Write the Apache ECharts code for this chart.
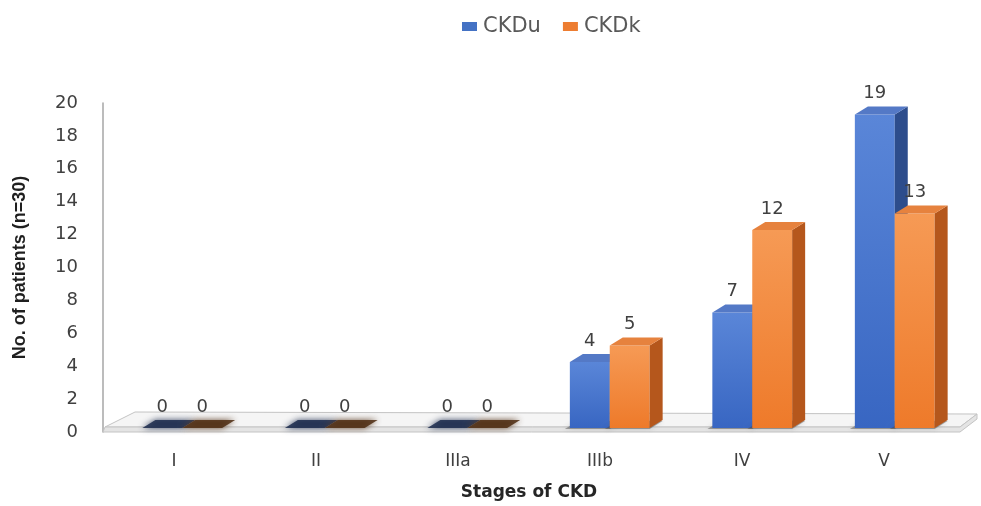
<!DOCTYPE html>
<html>
<head>
<meta charset="utf-8">
<script src="https://cdn.jsdelivr.net/npm/echarts@6/dist/echarts.min.js"></script>
<style>
  html, body { margin: 0; padding: 0; background: #ffffff; }
  #chart { width: 981px; height: 506px; }
</style>
</head>
<body>
<div id="chart"></div>
<script>
// CKD stage distribution by group
const categories = ['I', 'II', 'IIIa', 'IIIb', 'IV', 'V'];
const ckduValues = [0, 0, 0, 4, 7, 19];
const ckdkValues = [0, 0, 0, 5, 12, 13];
const yMin = 0;
const yMax = 20;
const yStep = 2;

const FONT = '"DejaVu Sans", sans-serif';
const DEPTH_X = 13;
const DEPTH_Y = 8;

const palettes = {
  blue: {
    legend: '#4472c4',
    frontTop: '#5a86d8', frontBottom: '#3866c2',
    side: '#2d4d8c', top: '#5479c6',
    flat: '#1b2a4c'
  },
  orange: {
    legend: '#ed7d31',
    frontTop: '#f69a55', frontBottom: '#ee7a2a',
    side: '#b5571c', top: '#e6823e',
    flat: '#4e2b10'
  }
};

// Draws one 3D-looking bar: front face, right side and top face
function barRenderer(slot, pal) {
  return function (params, api) {
    const cat = api.value(0);
    const val = api.value(1);
    const band = api.size([1, 0])[0];
    const bw = band * 0.28;
    const base = api.coord([cat, 0]);
    const top = api.coord([cat, val]);
    const x0 = base[0] + slot * bw;
    const x1 = x0 + bw;
    const yb = base[1];
    const yt = top[1];
    const children = [];

    if (val === 0) {
      children.push({
        type: 'polygon',
        shape: { points: [[x0, yb], [x0 + DEPTH_X, yb - DEPTH_Y], [x1 + DEPTH_X, yb - DEPTH_Y], [x1, yb]] },
        style: { fill: pal.flat, shadowBlur: 6, shadowColor: pal.flat, opacity: 0.85 }
      });
    } else {
      // soft contact shadow on the floor
      children.push({
        type: 'polygon',
        shape: { points: [[x0 - 5, yb + 1], [x0 - 5 + DEPTH_X, yb - DEPTH_Y + 1], [x1 + DEPTH_X, yb - DEPTH_Y + 1], [x1, yb + 1]] },
        style: { fill: 'rgba(70,70,70,0.45)', shadowBlur: 5, shadowColor: 'rgba(70,70,70,0.5)' }
      });
      children.push({
        type: 'rect',
        shape: { x: x0, y: yt, width: bw, height: yb - yt },
        style: {
          fill: new echarts.graphic.LinearGradient(0, 0, 0, 1, [
            { offset: 0, color: pal.frontTop },
            { offset: 1, color: pal.frontBottom }
          ])
        }
      });
      children.push({
        type: 'polygon',
        shape: { points: [[x1, yt], [x1 + DEPTH_X, yt - DEPTH_Y], [x1 + DEPTH_X, yb - DEPTH_Y], [x1, yb]] },
        style: { fill: pal.side }
      });
      children.push({
        type: 'polygon',
        shape: { points: [[x0, yt], [x0 + DEPTH_X, yt - DEPTH_Y], [x1 + DEPTH_X, yt - DEPTH_Y], [x1, yt]] },
        style: { fill: pal.top }
      });
    }
    children.push({
      type: 'text',
      style: {
        x: (x0 + x1) / 2,
        y: yt - DEPTH_Y - 4,
        text: String(val),
        fill: '#404040',
        font: '18px ' + FONT,
        align: 'center',
        verticalAlign: 'bottom'
      }
    });
    return { type: 'group', children: children };
  };
}

// Floor slab under the bars
function floorRenderer(params, api) {
  const cs = params.coordSys;
  const yb = cs.y + cs.height;
  const xl = cs.x;
  const xr = cs.x + cs.width;
  const th = 5;
  return {
    type: 'group',
    children: [
      {
        type: 'polygon',
        shape: { points: [[xl + 2, yb - th], [xl + 32, yb - 20], [xr + 22, yb - 18], [xr + 5, yb - th]] },
        style: { fill: '#f5f5f5', stroke: '#c4c4c4', lineWidth: 1 }
      },
      {
        type: 'polygon',
        shape: { points: [[xl + 2, yb - th], [xr + 5, yb - th], [xr + 22, yb - 18], [xr + 22, yb - 18 + th], [xr + 5, yb], [xl, yb]] },
        style: { fill: '#e4e4e4', stroke: '#c4c4c4', lineWidth: 1 }
      }
    ]
  };
}

const chart = echarts.init(document.getElementById('chart'), null, { renderer: 'canvas' });

chart.setOption({
  animation: false,
  backgroundColor: '#ffffff',
  legend: {
    top: 11,
    left: 457,
    itemWidth: 15,
    itemHeight: 9,
    itemGap: 22,
    icon: 'rect',
    textStyle: { fontFamily: FONT, fontSize: 21, color: '#595959', padding: [0, 0, 0, 1] },
    data: ['CKDu', 'CKDk']
  },
  grid: [
    { left: 103, top: 103, width: 852, height: 330 },
    { left: 111, top: 98, width: 855, height: 330 }
  ],
  xAxis: [
    {
      type: 'category',
      gridIndex: 0,
      data: categories,
      axisLine: { show: false },
      axisTick: { show: false },
      axisLabel: { margin: 21, fontFamily: FONT, fontSize: 17, color: '#404040' },
      name: 'Stages of CKD',
      nameLocation: 'middle',
      nameGap: 52,
      nameTextStyle: { fontFamily: FONT, fontWeight: 'bold', fontSize: 17, color: '#262626' }
    },
    {
      type: 'category',
      gridIndex: 1,
      data: categories,
      show: false
    }
  ],
  yAxis: [
    {
      type: 'value',
      gridIndex: 0,
      min: yMin,
      max: yMax,
      interval: yStep,
      axisLine: { show: true, lineStyle: { color: '#a6a6a6', width: 1.5 } },
      axisTick: { show: false },
      splitLine: { show: false },
      axisLabel: { margin: 25, fontFamily: FONT, fontSize: 18, color: '#404040' },
      name: 'No. of patients (n=30)',
      nameLocation: 'middle',
      nameRotate: 90,
      nameGap: 74,
      nameTextStyle: { fontFamily: '"Liberation Sans", Arial, sans-serif', fontWeight: 'bold', fontSize: 18, color: '#1f1f1f' }
    },
    {
      type: 'value',
      gridIndex: 1,
      min: yMin,
      max: yMax,
      interval: yStep,
      show: false
    }
  ],
  series: [
    {
      type: 'custom',
      name: 'floor',
      xAxisIndex: 0,
      yAxisIndex: 0,
      silent: true,
      z: 1,
      data: [[0, 0]],
      renderItem: floorRenderer
    },
    {
      type: 'custom',
      name: 'CKDu',
      xAxisIndex: 1,
      yAxisIndex: 1,
      z: 2,
      itemStyle: { color: palettes.blue.legend },
      data: categories.map((c, i) => [i, ckduValues[i]]),
      renderItem: barRenderer(-1, palettes.blue)
    },
    {
      type: 'custom',
      name: 'CKDk',
      xAxisIndex: 1,
      yAxisIndex: 1,
      z: 3,
      itemStyle: { color: palettes.orange.legend },
      data: categories.map((c, i) => [i, ckdkValues[i]]),
      renderItem: barRenderer(0, palettes.orange)
    }
  ]
});
</script>
</body>
</html>
